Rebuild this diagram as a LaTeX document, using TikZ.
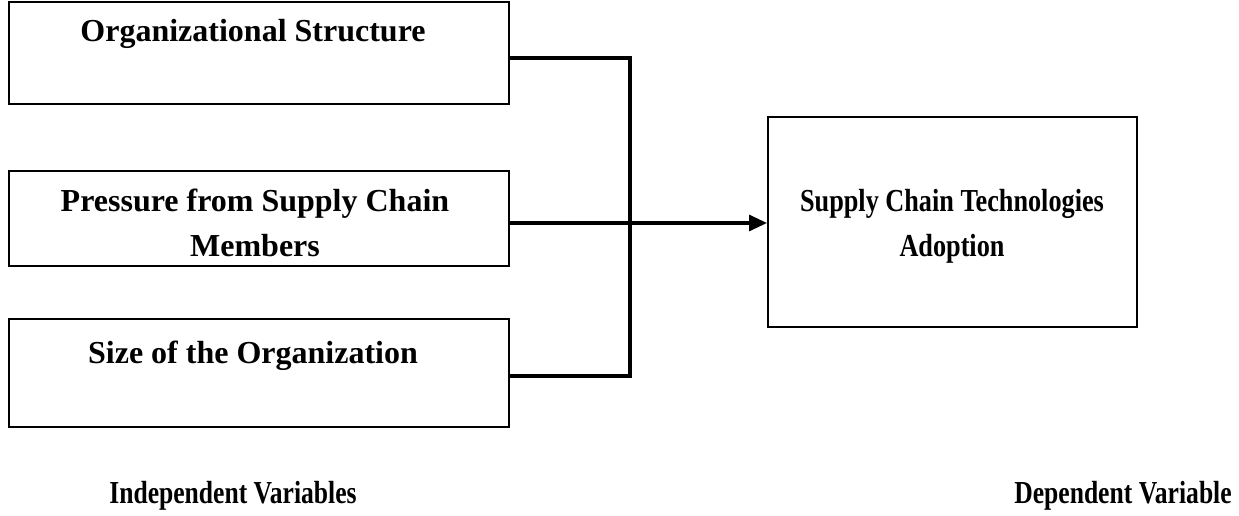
\documentclass[tikz,border=0pt]{standalone}
\usepackage{fontspec}
\setmainfont{Liberation Serif}
\usetikzlibrary{arrows.meta}
\begin{document}
\begin{tikzpicture}[x=1pt,y=-1pt,
  box/.style={draw, line width=2pt, inner sep=0pt, anchor=north west},
  txt/.style={font=\fontsize{32}{45}\selectfont\bfseries, align=center, inner sep=0pt, anchor=base},
  conn/.style={line width=3.2pt},
  arr/.style={line width=3.2pt, -{Triangle[length=18pt,width=16pt]}}]
\useasboundingbox (0,0) rectangle (1239,516);
% boxes
\node[box, minimum width=500pt, minimum height=102pt] (b1) at (8,1) {};
\node[box, minimum width=500pt, minimum height=95pt] (b2) at (8,170) {};
\node[box, minimum width=500pt, minimum height=108pt] (b3) at (8,318) {};
\node[box, minimum width=369pt, minimum height=210pt] (b4) at (767,116) {};
% texts
\node[txt] (t1) at (253,42) {Organizational Structure};
\node[txt] (t2a) at (255,211) {Pressure from Supply Chain};
\node[txt] (t2b) at (255,256) {Members};
\node[txt] (t3) at (253,363) {Size of the Organization};
\node[txt] (t4a) at (952,211) {\scalebox{0.82}[1]{Supply Chain Technologies}};
\node[txt] (t4b) at (952,256) {\scalebox{0.82}[1]{Adoption}};
\node[txt] (l1) at (233,503) {\scalebox{0.8}[1]{Independent Variables}};
\node[txt] (l2) at (1123,503) {\scalebox{0.8}[1]{Dependent Variable}};
% connectors
\coordinate (j1) at (630,58);
\coordinate (j2) at (630,223);
\coordinate (j3) at (630,376);
\draw[conn] (b1.east |- j1) -- (j1) -- (j3) -- (b3.east |- j3);
\draw[arr] (b2.east |- j2) -- (b4.west |- j2);
\end{tikzpicture}
\end{document}
